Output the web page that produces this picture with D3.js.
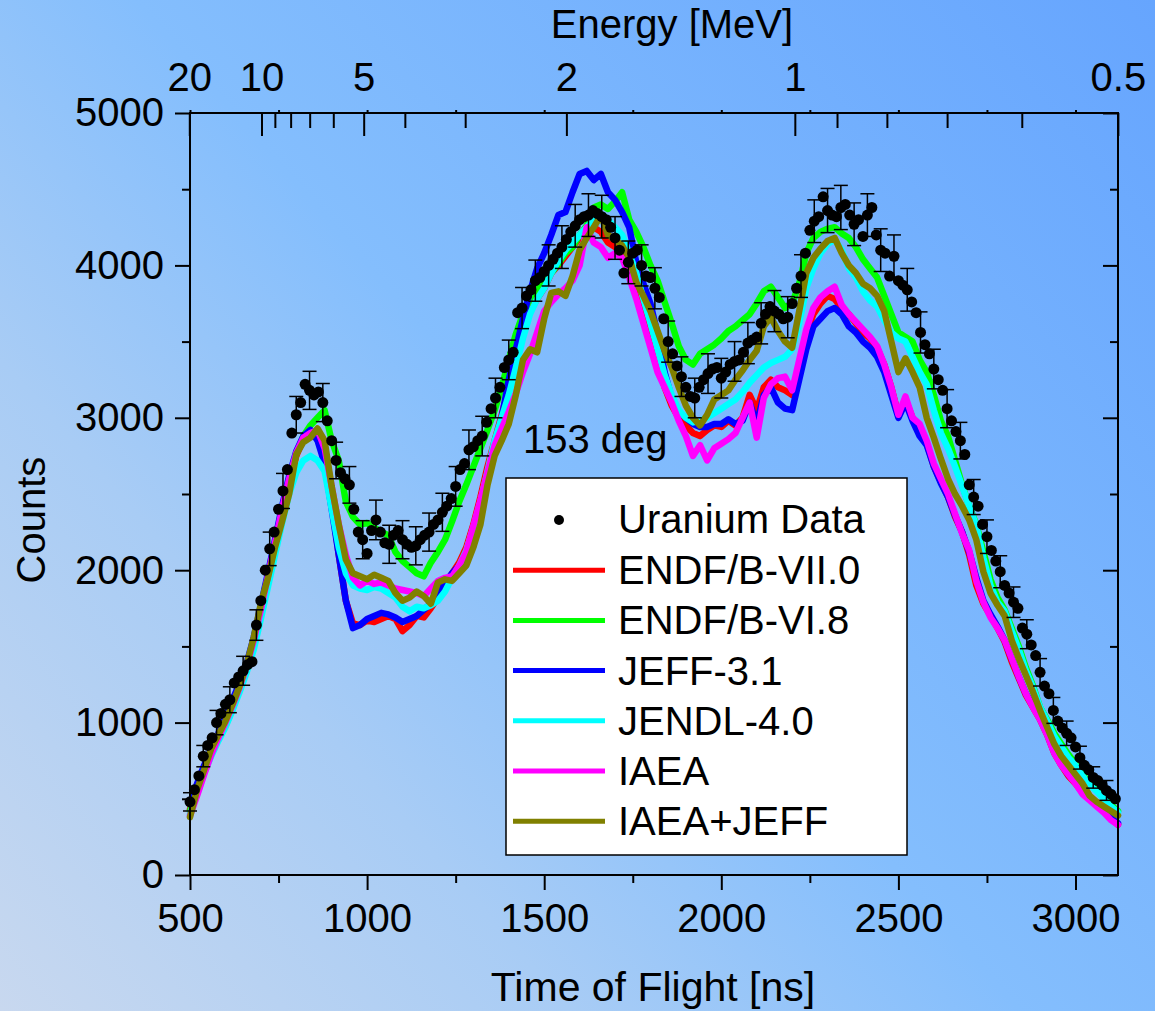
<!DOCTYPE html>
<html>
<head>
<meta charset="utf-8">
<script src="https://cdn.jsdelivr.net/npm/d3@7"></script>
<style>
  html, body { margin: 0; padding: 0; }
  svg { display: block; }
  text { font-family: 'Liberation Sans', Arial, sans-serif; fill: #000; }
</style>
</head>
<body>
<svg id="chart" width="1155" height="1011"></svg>
<script>
// ---------------- DATA ----------------
// Model curves sampled every 20 ns from 500 to 3120 ns
const modelStart = 500, modelStep = 20;
const endf70 = [430,560,690,800,900,1000,1120,1230,1370,1520,1720,1930,2160,2380,2580,2750,2860,
  2900,2880,2750,2450,2100,1800,1650,1640,1670,
  1660,1680,1700,1680,1600,1640,1700,1690,1750,1820,
  1900,1980,2050,2150,2300,2480,2680,2850,3020,3200,
  3380,3550,3700,3780,3850,3950,4000,4060,4120,4180,
  4230,4250,4220,4150,4120,4100,3980,3850,3700,3550,
  3380,3200,3080,3000,2950,2900,2880,2920,2950,2940,
  2980,2950,3000,3150,3050,3200,3250,3200,3180,3150,
  3350,3550,3680,3750,3800,3780,3720,3680,3620,3560,
  3520,3460,3350,3200,3020,3120,3000,2900,2830,2680,
  2580,2480,2350,2250,2100,1900,1780,1700,1620,1530,
  1400,1290,1180,1100,1020,920,800,720,650,600,
  540,500,460,420,370,330];
const endf68 = [420,560,700,820,900,980,1090,1220,1360,1540,1750,1960,2180,2400,2600,2760,2880,
  2950,3000,3050,2850,2720,2450,2350,2300,2310,
  2280,2250,2230,2120,2060,2020,1980,1960,2050,2120,
  2200,2320,2450,2560,2680,2800,2920,3050,3200,3380,
  3550,3680,3780,3850,3900,3950,4010,4080,4120,4200,
  4260,4380,4400,4370,4420,4480,4300,4220,4120,4000,
  3900,3760,3620,3470,3380,3350,3420,3450,3480,3520,
  3570,3600,3640,3680,3750,3830,3860,3790,3720,3750,
  3880,4080,4180,4220,4240,4250,4210,4180,4120,4040,
  3980,3920,3800,3680,3560,3530,3500,3380,3300,3150,
  2980,2880,2720,2560,2420,2300,2120,1940,1820,1740,
  1620,1500,1360,1240,1100,1020,930,860,790,730,
  660,600,560,510,460,420];
const jeff31 = [470,600,720,830,930,1040,1150,1260,1390,1560,1770,1980,2200,2420,2620,2780,2880,
  2920,2850,2700,2400,2100,1800,1620,1640,1680,
  1700,1720,1710,1690,1660,1680,1700,1740,1780,1850,
  1920,1980,2030,2100,2160,2380,2620,2830,3000,3250,
  3450,3650,3830,3980,4080,4200,4330,4350,4480,4600,
  4620,4560,4600,4480,4430,4350,4250,4020,3880,3750,
  3550,3300,3130,3040,3000,2960,2940,2940,2960,2960,
  2990,2960,2980,3100,2960,3150,3200,3100,3060,3050,
  3250,3450,3600,3650,3700,3720,3680,3600,3560,3500,
  3460,3400,3300,3150,3000,3100,2980,2880,2820,2680,
  2570,2480,2360,2250,2120,1950,1800,1710,1630,1540,
  1420,1300,1190,1110,1030,930,810,730,660,610,
  550,510,470,430,380,340];
const jendl40 = [400,530,670,780,880,970,1080,1200,1330,1480,1680,1890,2100,2310,2500,2640,2720,
  2750,2720,2650,2400,2150,1980,1900,1880,1870,
  1890,1880,1850,1820,1760,1730,1760,1750,1770,1800,
  1860,1950,2030,2130,2280,2450,2650,2850,3000,3150,
  3330,3520,3680,3780,3850,3950,4030,4100,4150,4200,
  4250,4300,4320,4300,4250,4200,4080,3950,3780,3620,
  3450,3280,3150,3050,3000,2970,2980,3000,3030,3060,
  3090,3120,3170,3230,3280,3330,3360,3380,3400,3450,
  3620,3850,3980,4080,4140,4170,4100,3980,3920,3830,
  3770,3730,3640,3560,3520,3500,3400,3300,3220,3050,
  2900,2800,2680,2550,2420,2290,2080,1900,1790,1730,
  1600,1480,1340,1230,1100,1010,910,840,770,720,
  650,590,550,500,450,410];
const iaea = [390,520,660,790,900,1000,1110,1230,1370,1540,1740,1960,2180,2400,2600,2770,2870,
  2900,2920,2800,2550,2300,2100,1950,1900,1930,
  1910,1920,1900,1880,1870,1860,1850,1830,1880,1930,
  1950,1960,2030,2120,2290,2460,2640,2820,2930,3040,
  3160,3300,3420,3560,3700,3760,3810,3850,3900,4000,
  4250,4150,4120,4050,4080,4050,3920,3780,3620,3460,
  3300,3200,3100,2980,2880,2750,2820,2720,2800,2830,
  2860,2900,3000,3100,2870,3130,3220,3260,3270,3180,
  3380,3580,3720,3790,3830,3860,3740,3680,3630,3580,
  3530,3470,3350,3200,3020,3140,3000,2960,2850,2700,
  2600,2500,2370,2240,2130,1930,1790,1690,1620,1540,
  1420,1300,1190,1100,1020,920,800,720,660,600,
  530,490,450,410,360,330];
const iaeaJeff = [380,560,690,830,920,1010,1120,1240,1380,1560,1780,1950,2150,2320,2500,2760,2840,
  2870,2930,2850,2550,2300,2070,1980,1960,1940,
  1970,1950,1930,1850,1800,1820,1860,1830,1780,1920,
  1940,1930,1980,2030,2150,2300,2560,2750,2850,2960,
  3150,3380,3450,3430,3650,3820,3830,3800,3930,4100,
  4180,4250,4330,4200,4170,4130,4050,3890,3800,3700,
  3570,3440,3330,3200,3080,3000,2950,3020,3120,3150,
  3180,3250,3310,3380,3440,3600,3660,3570,3500,3460,
  3700,3950,4050,4110,4160,4180,4080,4000,3950,3880,
  3850,3800,3700,3500,3300,3390,3300,3200,3000,2870,
  2730,2600,2500,2420,2330,2200,1990,1850,1770,1700,
  1540,1420,1310,1200,1080,970,860,780,720,660,
  600,520,480,450,420,390];

// Uranium data, every 12.5 ns from 500 ns
const dataStart = 500, dataStep = 12.5;
const uranium = [480,560,650,780,850,900,1000,1060,1120,1150,1260,1300,1340,1380,1400,1640,
  1800,2000,2140,2250,2400,2520,2660,2900,3020,3100,3220,3180,3150,3170,3100,2980,
  2850,2720,2640,2600,2560,2400,2250,2200,2110,2260,2330,2250,2180,2170,2230,2260,
  2200,2170,2150,2160,2200,2230,2250,2300,2330,2380,2420,2470,2550,2660,2700,2790,
  2810,2850,2880,2970,3060,3130,3200,3330,3380,3430,3690,3720,3800,3840,3900,3920,
  3960,4000,4040,4080,4120,4170,4220,4260,4300,4320,4330,4360,4340,4320,4300,4250,
  4180,4100,3950,4020,4080,4100,4000,3930,3920,3850,3790,3650,3500,3420,3340,3270,
  3200,3140,3130,3200,3250,3290,3320,3330,3260,3300,3350,3370,3380,3430,3490,3510,
  3530,3620,3680,3730,3700,3680,3650,3660,3750,3850,3930,4080,4230,4290,4320,4450,
  4360,4330,4320,4380,4400,4330,4270,4300,4190,4330,4380,4200,4100,4080,3930,4060,
  3900,3870,3840,3760,3690,3560,3480,3420,3320,3250,3180,3060,2980,2910,2850,2760,
  2560,2480,2420,2300,2220,2130,2060,1990,1900,1850,1790,1750,1620,1580,1510,1440,
  1330,1240,1190,1080,1010,965,930,900,840,770,720,690,640,620,590,555,530,500];
// error bars shown on every third data point
const errEvery = 3;
const uraniumErr = [60,70,80,85,95,100,110,115,120,125,
  125,120,120,125,130,125,125,125,125,125,
  130,130,130,130,130,135,135,135,140,140,
  140,140,140,140,135,135,135,130,130,130,
  130,130,135,135,135,135,140,140,145,145,
  140,140,140,140,140,135,130,125,120,115,
  110,105,100,95,90,85,80,75,70,65];

const seriesNames = ["ENDF/B-VII.0","ENDF/B-VI.8","JEFF-3.1","JENDL-4.0","IAEA","IAEA+JEFF"];
const seriesColors = ["#ff0000","#00ff00","#0000ff","#00ffff","#ff00ff","#808000"];
const seriesValues = [endf70, endf68, jeff31, jendl40, iaea, iaeaJeff];

const tofMajor = [500,1000,1500,2000,2500,3000];
const tofMinor = [750,1250,1750,2250,2750];
const countMajor = [0,1000,2000,3000,4000,5000];
const countMinor = [500,1500,2500,3500,4500];
const energyMajor = [20,10,5,2,1,0.5];
const energyMinor = [9,8,7,6,4,3,0.9,0.8,0.7,0.6];
// flight-time calibration: t[ns] = 2202/sqrt(E[MeV]) + 7
const tofOfEnergy = e => 2202 / Math.sqrt(e) + 7;

// ---------------- CHART ----------------
(function(){
const svg = d3.select("#chart");
const W = 1155, H = 1011;
const pL = 190, pR = 1118, pT = 113, pB = 875;

const defs = svg.append("defs");
const grad = defs.append("linearGradient").attr("id","bg")
  .attr("gradientUnits","userSpaceOnUse")
  .attr("x1",0).attr("y1",H).attr("x2",W).attr("y2",0);
grad.append("stop").attr("offset","0").attr("stop-color","#c8d8ef");
grad.append("stop").attr("offset","0.28").attr("stop-color","#a8ccf5");
grad.append("stop").attr("offset","0.5").attr("stop-color","#84befd");
grad.append("stop").attr("offset","1").attr("stop-color","#66a5fe");
svg.append("rect").attr("width",W).attr("height",H).attr("fill","url(#bg)");

const x = d3.scaleLinear().domain([500,3120]).range([pL,pR]);
const y = d3.scaleLinear().domain([0,5000]).range([pB,pT]);

// model lines
const line = d3.line()
  .x((d,i) => x(modelStart + modelStep*i))
  .y(d => y(d));
const linesG = svg.append("g");
seriesValues.forEach((vals, k) => {
  linesG.append("path").datum(vals)
    .attr("d", line)
    .attr("fill","none")
    .attr("stroke", seriesColors[k])
    .attr("stroke-width", 6.5)
    .attr("stroke-linejoin","round")
    .attr("stroke-linecap","round");
});

// data
const pts = uranium.map((v,i) => ({t: dataStart + dataStep*i, v, i}));
const errPts = pts.filter(p => p.i % errEvery === 0).map((p,j) => ({...p, e: uraniumErr[j]}))
  .filter(p => p.e !== undefined);
const errG = svg.append("g").attr("stroke","#000").attr("stroke-width",1.5);
errPts.forEach(p => {
  const cx = x(p.t), y1 = y(p.v + p.e), y0 = y(p.v - p.e);
  errG.append("line").attr("x1",cx).attr("x2",cx).attr("y1",y1).attr("y2",y0);
  errG.append("line").attr("x1",cx-7).attr("x2",cx+7).attr("y1",y1).attr("y2",y1);
  errG.append("line").attr("x1",cx-7).attr("x2",cx+7).attr("y1",y0).attr("y2",y0);
});
svg.append("g").selectAll("circle").data(pts).join("circle")
  .attr("cx", d => x(d.t)).attr("cy", d => y(d.v)).attr("r", 5.5).attr("fill","#000");

// frame
svg.append("rect").attr("x",pL).attr("y",pT).attr("width",pR-pL).attr("height",pB-pT)
  .attr("fill","none").attr("stroke","#000").attr("stroke-width",2);

const fontSize = 40;
function styleAxis(g){
  g.select(".domain").remove();
  g.selectAll(".tick line").attr("stroke","#000").attr("stroke-width",2);
  g.selectAll("text").attr("font-size",fontSize).attr("font-family","'Liberation Sans', Arial, sans-serif").attr("fill","#000");
}
// bottom axis
svg.append("g").attr("transform",`translate(0,${pB})`)
  .call(d3.axisBottom(x).tickValues(tofMajor).tickSize(15).tickPadding(14).tickFormat(d3.format("d")))
  .call(styleAxis);
svg.append("g").attr("transform",`translate(0,${pB})`)
  .call(d3.axisBottom(x).tickValues(tofMinor).tickSize(8).tickFormat(""))
  .call(styleAxis);
// top mirrored small ticks
svg.append("g").attr("transform",`translate(0,${pT})`)
  .call(d3.axisTop(x).tickValues(tofMajor.concat(tofMinor)).tickSize(3).tickFormat(""))
  .call(styleAxis);
// left axis
svg.append("g").attr("transform",`translate(${pL},0)`)
  .call(d3.axisLeft(y).tickValues(countMajor).tickSize(15).tickPadding(11).tickFormat(d3.format("d")))
  .call(styleAxis);
svg.append("g").attr("transform",`translate(${pL},0)`)
  .call(d3.axisLeft(y).tickValues(countMinor).tickSize(8).tickFormat(""))
  .call(styleAxis);
// right axis (inward)
svg.append("g").attr("transform",`translate(${pR},0)`)
  .call(d3.axisLeft(y).tickValues(countMajor).tickSize(15).tickFormat(""))
  .call(styleAxis);
svg.append("g").attr("transform",`translate(${pR},0)`)
  .call(d3.axisLeft(y).tickValues(countMinor).tickSize(8).tickFormat(""))
  .call(styleAxis);

// top energy axis (ticks inward)
const eg = svg.append("g");
energyMajor.forEach(e => {
  const ex = x(tofOfEnergy(e));
  eg.append("line").attr("x1",ex).attr("x2",ex).attr("y1",pT).attr("y2",pT+23)
    .attr("stroke","#000").attr("stroke-width",2);
  eg.append("text").attr("x",ex).attr("y",91).attr("text-anchor","middle")
    .attr("font-size",fontSize).text(e);
});
energyMinor.forEach(e => {
  const ex = x(tofOfEnergy(e));
  eg.append("line").attr("x1",ex).attr("x2",ex).attr("y1",pT).attr("y2",pT+15)
    .attr("stroke","#000").attr("stroke-width",2);
});

// titles
svg.append("text").attr("x",672).attr("y",38).attr("text-anchor","middle")
  .attr("font-size",fontSize).text("Energy [MeV]");
svg.append("text").attr("x",653).attr("y",1001).attr("text-anchor","middle")
  .attr("font-size",41).text("Time of Flight [ns]");
svg.append("text").attr("transform","translate(45,520) rotate(-90)").attr("text-anchor","middle")
  .attr("font-size",fontSize).text("Counts");
svg.append("text").attr("x",523).attr("y",453).attr("font-size",fontSize).text("153 deg");

// legend
const lg = svg.append("g");
lg.append("rect").attr("x",506).attr("y",478).attr("width",401).attr("height",377)
  .attr("fill","#fff").attr("stroke","#000").attr("stroke-width",1.5);
const rowY0 = 520, rowGap = 50.2;
lg.append("circle").attr("cx",559).attr("cy",rowY0).attr("r",5).attr("fill","#000");
lg.append("text").attr("x",618).attr("y",rowY0+13).attr("font-size",fontSize).text("Uranium Data");
seriesNames.forEach((n,k) => {
  const ry = rowY0 + rowGap*(k+1);
  lg.append("line").attr("x1",513).attr("x2",605).attr("y1",ry).attr("y2",ry)
    .attr("stroke",seriesColors[k]).attr("stroke-width",5);
  lg.append("text").attr("x",618).attr("y",ry+14).attr("font-size",fontSize).text(n);
});
})();
</script>
</body>
</html>
